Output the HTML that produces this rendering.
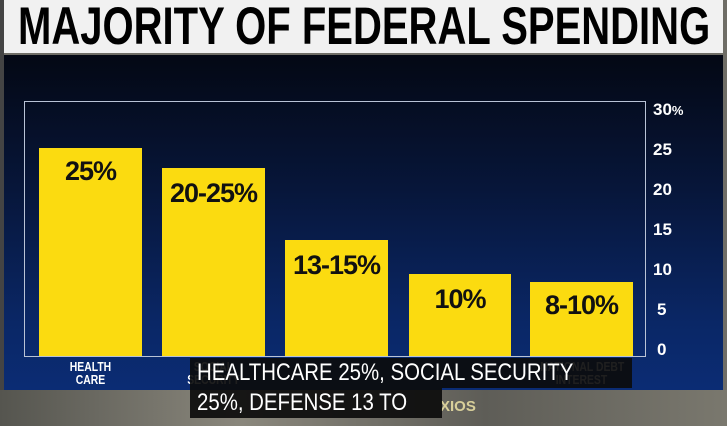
<!DOCTYPE html><html><head><style>
body{margin:0;width:727px;height:426px;overflow:hidden;background:#6f6d66;font-family:"Liberation Sans",sans-serif;position:relative}
div{position:absolute}
.bar{background:#fbdb10;}
.lab{color:#111;font-weight:bold;font-size:27px;text-align:center;width:100%;letter-spacing:-1px}
.y{color:#fff;font-weight:bold;font-size:17px;left:653px}
.xl{color:#fff;font-weight:bold;font-size:13px;text-align:center;line-height:13px;width:103px;white-space:nowrap;transform:scaleX(.8)}
</style></head><body>
<div style="left:0;top:390px;width:727px;height:36px;background:linear-gradient(90deg,#55554f,#8a877c,#5e5d57,#7a786e)"></div>
<div style="left:0;top:0;width:4px;height:390px;background:#444"></div>
<div style="left:4px;top:0;width:719px;height:53px;background:#f1f1f1"></div>
<div style="left:18px;top:-4px;font-size:53px;font-weight:bold;color:#000;transform:scaleX(.755);transform-origin:0 0;white-space:nowrap">MAJORITY OF FEDERAL SPENDING</div>
<div style="left:4px;top:55px;width:719px;height:335px;background:linear-gradient(180deg,#040814 0%,#07163a 40%,#0a2766 80%,#0b2c74 100%)"></div>
<div style="left:24px;top:101px;width:622px;height:256px;border:1px solid #b9c3d6;box-sizing:border-box"></div>
<div class="bar" style="left:39px;top:148px;width:103px;height:208px"><div class="lab" style="top:8px">25%</div></div>
<div class="bar" style="left:162px;top:168px;width:103px;height:188px"><div class="lab" style="top:10px">20-25%</div></div>
<div class="bar" style="left:285px;top:240px;width:103px;height:116px"><div class="lab" style="top:10px">13-15%</div></div>
<div class="bar" style="left:409px;top:274px;width:102px;height:82px"><div class="lab" style="top:10px">10%</div></div>
<div class="bar" style="left:530px;top:282px;width:103px;height:74px"><div class="lab" style="top:8px">8-10%</div></div>
<div class="y" style="top:100px">30<span style="font-size:13px">%</span></div>
<div class="y" style="top:140px">25</div><div class="y" style="top:180px">20</div>
<div class="y" style="top:220px">15</div><div class="y" style="top:260px">10</div>
<div class="y" style="top:300px;left:657px">5</div><div class="y" style="top:340px;left:657px">0</div>
<div class="xl" style="left:39px;top:360px">HEALTH<br>CARE</div>
<div class="xl" style="left:162px;top:360px">SOCIAL<br>SECURITY</div>
<div class="xl" style="left:530px;top:360px">NATIONAL DEBT<br>INTEREST</div>
<div style="left:440px;top:398px;color:#d8cf9a;font-weight:bold;font-size:15px">XIOS</div>
<div style="left:190px;top:358px;width:442px;height:30px;background:rgba(12,12,12,.92)"></div>
<div style="left:190px;top:388px;width:252px;height:30px;background:rgba(12,12,12,.92)"></div>
<div style="left:197px;top:357px;color:#fff;font-size:24px;line-height:32px;white-space:nowrap;transform:scaleX(.85);transform-origin:left">HEALTHCARE 25%, SOCIAL SECURITY</div>
<div style="left:197px;top:387px;color:#fff;font-size:24px;line-height:32px;white-space:nowrap;transform:scaleX(.85);transform-origin:left">25%, DEFENSE 13 TO</div>
</body></html>
